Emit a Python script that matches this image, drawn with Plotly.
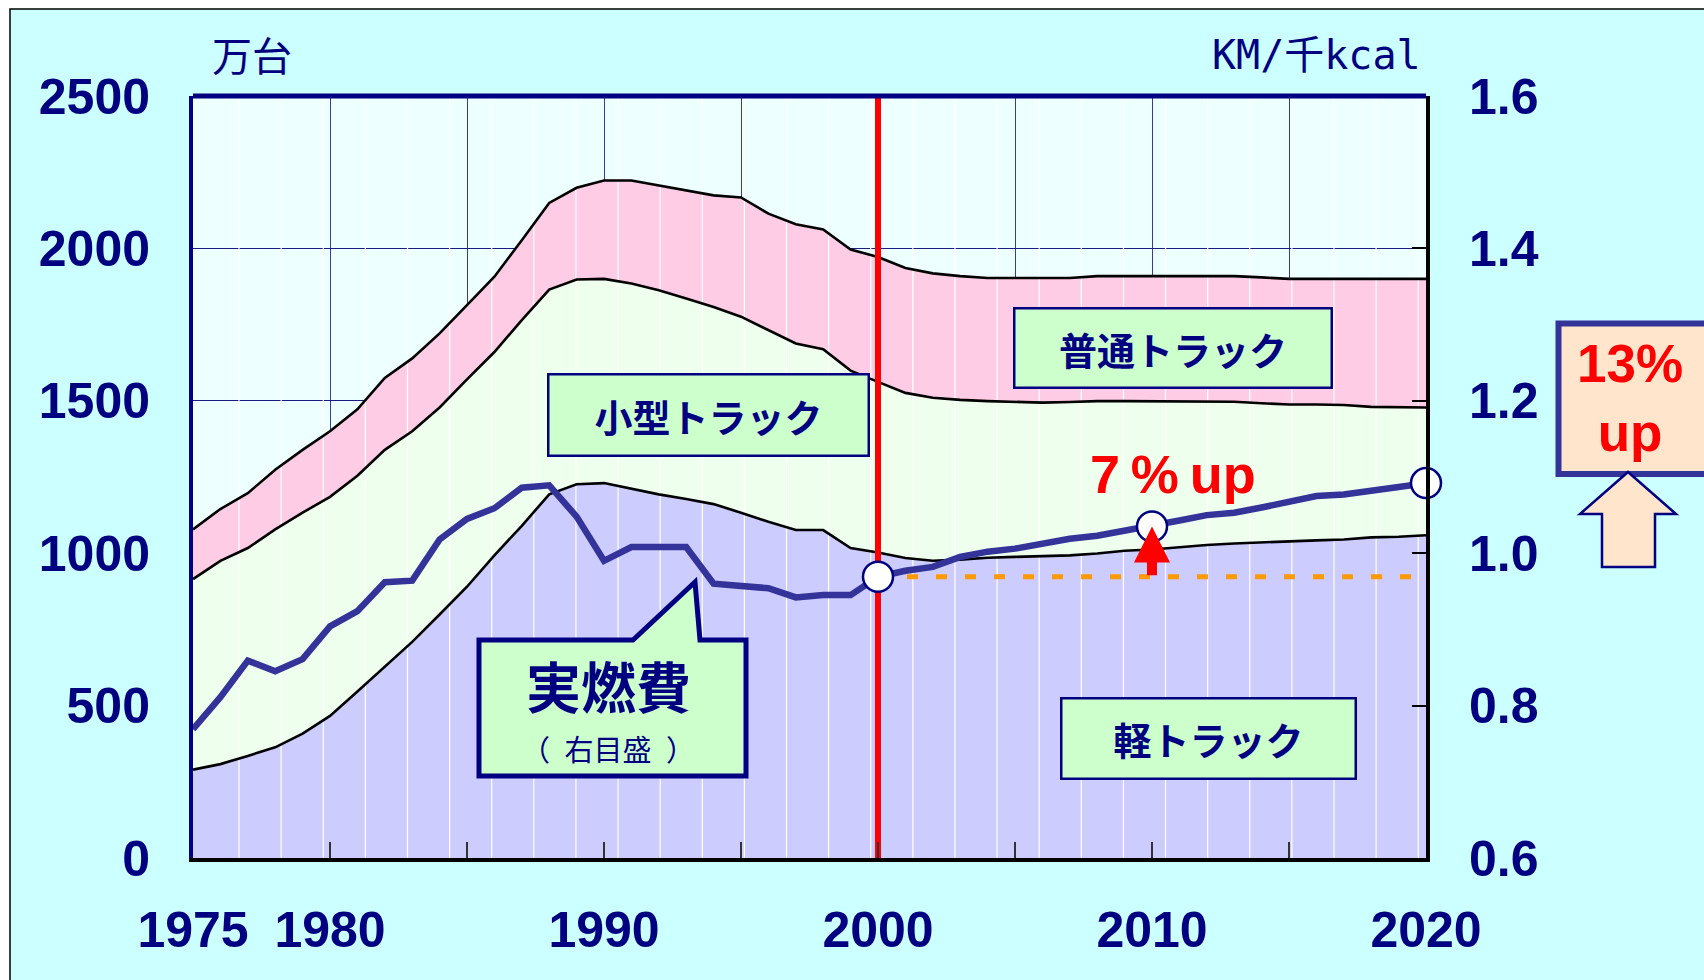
import numpy as np
import plotly.graph_objects as go

###  1. DATA
years = list(range(1975, 2021))

# trucks in use, 10 000 units (stacked)
kei = [290, 308, 335, 363, 408, 466, 546, 628, 709, 799,
       890, 993, 1090, 1193, 1226, 1230, 1211, 1193, 1178, 1161,
       1133, 1103, 1076, 1076, 1017, 1002, 984, 975, 979, 985,
       988, 990, 993, 999, 1008, 1012, 1020, 1027, 1032, 1036,
       1038, 1042, 1045, 1052, 1054, 1059]
kogata = [625, 667, 682, 715, 725, 719, 708, 711, 691, 679,
          680, 667, 675, 672, 672, 670, 674, 670, 658, 647,
          643, 629, 612, 593, 582, 560, 542, 535, 524, 514,
          508, 504, 503, 500, 491, 487, 479, 472, 465, 456,
          450, 446, 441, 428, 424, 419]
futsu = [163, 170, 180, 196, 206, 215, 218, 236, 239, 243,
         244, 247, 262, 284, 301, 323, 338, 344, 354, 366,
         391, 382, 391, 393, 397, 410, 410, 408, 406, 404,
         407, 409, 407, 410, 410, 410, 410, 410, 412, 413,
         412, 412, 414, 420, 422, 422]

# real fuel economy, km / 1000 kcal (right axis)
fuel = [0.769, 0.811, 0.859, 0.845, 0.861, 0.904, 0.924, 0.962, 0.964, 1.018,
        1.045, 1.059, 1.086, 1.089, 1.048, 0.990, 1.008, 1.008, 1.008, 0.960,
        0.957, 0.954, 0.942, 0.945, 0.945, 0.969, 0.977, 0.982, 0.995, 1.002,
        1.006, 1.013, 1.019, 1.023, 1.029, 1.035, 1.043, 1.050, 1.053, 1.060,
        1.068, 1.075, 1.077, 1.083, 1.087, 1.092]

series_names = ["軽トラック", "小型トラック", "普通トラック"]
marked_years = [2000, 2010, 2020]
base_year = 2000
x_ticks = list(range(1975, 2021, 5))
x_labels = ["1975", "1980", "", "1990", "", "2000", "", "2010", "", "2020"]

###  2. STYLE
NAVY = "#000080"
fill_cols = ["#CCCCFF", "#EEFFEE", "#FFCCE5"]
BOX_GREEN = "#CCFFCC"
PEACH = "#FFE5CC"
CJK = "Noto Sans CJK JP"
LAT = "Liberation Sans"

# plot area in pixels
L, R, T, B = 193, 1426, 96, 858


def px(x, y):
    """pixel position -> paper coordinates"""
    return (x - L) / (R - L), (B - y) / (B - T)


def path(points):
    pts = [px(x, y) for x, y in points]
    return "M" + "L".join(f"{a:.5f},{b:.5f}" for a, b in pts) + "Z"


###  3. TRACES
fig = go.Figure()

# stacked fills
for name, vals, col in zip(series_names, [kei, kogata, futsu], fill_cols):
    fig.add_trace(go.Scatter(x=years, y=vals, name=name, stackgroup="fill",
                             mode="lines", line=dict(width=0), fillcolor=col,
                             showlegend=False, hoverinfo="skip"))

# white texture stripes over the fills
stripe_x = np.arange(1976.68, 2020, 1.537)
sx, sy = [], []
for s in stripe_x:
    sx += [s, s, None]
    sy += [0, 2500, None]
fig.add_trace(go.Scatter(x=sx, y=sy, mode="lines", line=dict(color="white", width=1.2),
                         showlegend=False, hoverinfo="skip"))

# black boundaries
for name, vals in zip(series_names, [kei, kogata, futsu]):
    fig.add_trace(go.Scatter(x=years, y=vals, stackgroup="edge", fill="none",
                             mode="lines", line=dict(color="black", width=2.6),
                             showlegend=False, hoverinfo="skip"))

# red line at 2000
fig.add_trace(go.Scatter(x=[base_year, base_year], y=[0, 2500], mode="lines",
                         line=dict(color="#FF0000", width=6), showlegend=False))

i0 = years.index(base_year)
# orange reference level
fig.add_trace(go.Scatter(x=[base_year, years[-1]], y=[fuel[i0], fuel[i0]], yaxis="y2",
                         mode="lines", line=dict(color="#FF9900", width=5, dash="11px,18px"),
                         showlegend=False))

# fuel economy
fig.add_trace(go.Scatter(x=years, y=fuel, yaxis="y2", mode="lines",
                         line=dict(color="#333399", width=6.5), showlegend=False))
fig.add_trace(go.Scatter(x=marked_years, y=[fuel[years.index(y)] for y in marked_years],
                         yaxis="y2", mode="markers", cliponaxis=False,
                         marker=dict(size=30, color="white", line=dict(color=NAVY, width=2.5)),
                         showlegend=False))

###  4. SHAPES / ANNOTATIONS
shapes = []
# outer frame
fx0, fy0 = px(10, 1000)
fx1, fy1 = px(1720, 9)
shapes.append(dict(type="rect", xref="paper", yref="paper", x0=fx0, y0=fy0, x1=fx1, y1=fy1,
                   fillcolor="#CCFFFF", line=dict(color="black", width=1.5), layer="below"))
shapes.append(dict(type="rect", xref="paper", yref="paper", x0=0, y0=0, x1=1, y1=1,
                   fillcolor="#EEFFFF", line=dict(width=0), layer="below"))
# top border
shapes.append(dict(type="line", xref="paper", yref="paper", x0=0, y0=1, x1=1, y1=1,
                   line=dict(color=NAVY, width=5)))
# callout for fuel economy
shapes.append(dict(type="path", xref="paper", yref="paper",
                   path=path([(479, 640), (633, 640), (695, 582), (700, 640),
                              (746, 640), (746, 776), (479, 776)]),
                   fillcolor=BOX_GREEN, line=dict(color=NAVY, width=5)))
# 13% box and block arrow
bx0, by0 = px(1558.5, 474)
bx1, by1 = px(1740, 323.5)
shapes.append(dict(type="rect", xref="paper", yref="paper", x0=bx0, y0=by0, x1=bx1, y1=by1,
                   fillcolor=PEACH, line=dict(color="#333399", width=6)))
shapes.append(dict(type="path", xref="paper", yref="paper",
                   path=path([(1628, 472), (1676, 514), (1655, 514), (1655, 567),
                              (1602, 567), (1602, 514), (1580, 514)]),
                   fillcolor=PEACH, line=dict(color=NAVY, width=2.5)))

ann = []


def label(x, y, text, size, color=NAVY, family=CJK, bold=False, **kw):
    ax_, ay_ = px(x, y)
    ann.append(dict(x=ax_, y=ay_, xref="paper", yref="paper", text=text, showarrow=False,
                    xanchor="center", yanchor="middle",
                    font=dict(family=family, size=size, color=color,
                              weight="bold" if bold else "normal"), **kw))


def box(x, y, text, w, h):
    label(x, y, text, 38, bold=True, bgcolor=BOX_GREEN, bordercolor=NAVY, borderwidth=2.5,
          borderpad=0, width=w, height=h)


box(708, 414.5, series_names[1], 318, 79)
box(1172.5, 348, series_names[2], 315, 77)
box(1208, 738, series_names[0], 292, 78)

label(608, 684, "実燃費", 55, bold=True)
label(608, 748, "（\u2002右目盛\u2002）", 29)
label(252, 54, "万台", 40)
label(1316, 55, "KM/千kcal", 40, family="DejaVu Sans Mono, Noto Sans CJK JP")
label(1173, 474, "7\u2009%\u2009up", 54, color="#FF0000", family=LAT, bold=True)
label(1630, 398, "13%<br>up", 53, color="#FF0000", family=LAT, bold=True)

# red arrow 2000 level -> 2010 value
i1 = years.index(2010)
ann.append(dict(x=2010, y=fuel[i1], xref="x", yref="y2", ax=2010, ay=fuel[i0],
                axref="x", ayref="y2", text="", showarrow=True, arrowhead=2,
                arrowsize=0.72, arrowwidth=10, arrowcolor="#FF0000"))

###  5. LAYOUT
tickfont = dict(family=LAT, size=50, color=NAVY, weight="bold")
fig.update_layout(
    width=1704, height=980,
    margin=dict(l=L, r=1704 - R, t=T, b=980 - B),
    paper_bgcolor="white", plot_bgcolor="rgba(0,0,0,0)",
    shapes=shapes, annotations=ann,
    xaxis=dict(range=[1975, 2020], tickvals=x_ticks, ticktext=x_labels,
               ticks="inside", ticklen=16, tickwidth=1.5, tickcolor="#333333",
               showgrid=True, gridcolor="#3a3a9a", gridwidth=1,
               showline=True, linecolor="black", linewidth=3.5,
               tickfont=tickfont, ticklabelstandoff=25, zeroline=False),
    yaxis=dict(range=[0, 2500], dtick=500, ticks="",
               showgrid=True, gridcolor="#1a1a80", gridwidth=1.2,
               showline=True, linecolor=NAVY, linewidth=4,
               tickfont=tickfont, ticklabelstandoff=29, zeroline=False),
    yaxis2=dict(range=[0.6, 1.6], dtick=0.2, tickformat=".1f", overlaying="y", side="right",
                ticks="inside", ticklen=14, tickwidth=1.5, tickcolor="black",
                showgrid=False, showline=True, linecolor="black", linewidth=4,
                tickfont=tickfont, ticklabelstandoff=29, zeroline=False),
)

fig.write_html("out.html", config={"displayModeBar": False},
               post_script="document.body.style.margin='0';document.body.style.overflow='hidden';")
